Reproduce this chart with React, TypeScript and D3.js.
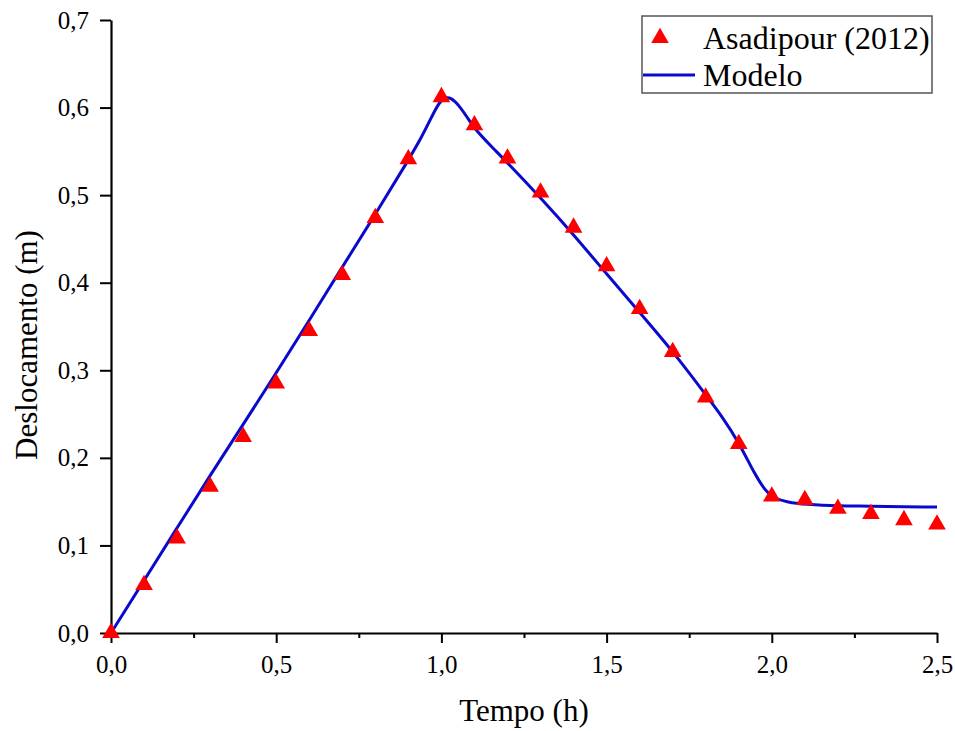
import React, { useEffect, useRef } from 'react'
import * as d3 from 'd3'

// Asadipour (2012) measured points
const expTime = [0, 0.1, 0.2, 0.3, 0.4, 0.5, 0.6, 0.7, 0.8, 0.9, 1.0, 1.1, 1.2, 1.3, 1.4, 1.5, 1.6, 1.7, 1.8, 1.9, 2.0, 2.1, 2.2, 2.3, 2.4, 2.5]
const expDesl = [0, 0.055, 0.108, 0.167, 0.224, 0.285, 0.345, 0.409, 0.474, 0.541, 0.612, 0.58, 0.542, 0.503, 0.463, 0.419, 0.37, 0.321, 0.269, 0.216, 0.156, 0.152, 0.142, 0.136, 0.129, 0.124]

// Modelo curve
const modTime = [0, 0.1, 0.2, 0.3, 0.4, 0.5, 0.6, 0.7, 0.8, 0.9, 0.94, 0.97, 0.99, 1.01, 1.03, 1.05, 1.08, 1.1, 1.15, 1.2, 1.3, 1.4, 1.5, 1.6, 1.7, 1.8, 1.85, 1.9, 1.95, 1.98, 2.0, 2.05, 2.1, 2.2, 2.3, 2.4, 2.5]
const modDesl = [0, 0.06, 0.12, 0.18, 0.238, 0.297, 0.357, 0.418, 0.478, 0.54, 0.566, 0.589, 0.604, 0.612, 0.611, 0.604, 0.588, 0.576, 0.556, 0.537, 0.497, 0.455, 0.41, 0.366, 0.322, 0.272, 0.247, 0.218, 0.18, 0.163, 0.155, 0.149, 0.147, 0.145, 0.145, 0.144, 0.144]

const xTicks = [0, 0.5, 1.0, 1.5, 2.0, 2.5]
const xMinor = [0.25, 0.75, 1.25, 1.75, 2.25]
const yTicks = [0, 0.1, 0.2, 0.3, 0.4, 0.5, 0.6, 0.7]

const legendLabels = ['Asadipour (2012)', 'Modelo']

const FONT = "'Liberation Serif', 'DejaVu Serif'"

export default function App() {
  const ref = useRef<SVGSVGElement>(null)

  useEffect(() => {
    const svg = d3.select(ref.current)
    svg.selectAll('*').remove()

    const x = d3.scaleLinear().domain([0, 2.5]).range([111, 937])
    const y = d3.scaleLinear().domain([0, 0.7]).range([633, 20])
    const fmt = (d: any) => d3.format('.1f')(d).replace('.', ',')

    // minor x ticks
    svg.append('g')
      .attr('transform', 'translate(0,633)')
      .call(d3.axisBottom(x).tickValues(xMinor).tickSize(5).tickSizeOuter(0).tickFormat(() => ''))
      .call(g => g.select('.domain').remove())
      .call(g => g.selectAll('line').attr('stroke', '#000').attr('stroke-width', 2))

    // x axis
    const gx = svg.append('g')
      .attr('transform', 'translate(0,633)')
      .call(d3.axisBottom(x).tickValues(xTicks).tickSize(10).tickSizeOuter(0).tickPadding(12).tickFormat(fmt))
    gx.attr('font-family', null)
    gx.select('.domain').attr('stroke', '#000').attr('stroke-width', 2.2)
    gx.selectAll('line').attr('stroke', '#000').attr('stroke-width', 2)
    gx.selectAll('text').style('font-family', FONT).style('font-size', '25px').attr('fill', '#000')

    // y axis
    const gy = svg.append('g')
      .attr('transform', 'translate(111,0)')
      .call(d3.axisLeft(y).tickValues(yTicks).tickSize(11).tickSizeOuter(0).tickPadding(11).tickFormat(fmt))
    gy.attr('font-family', null)
    gy.select('.domain').attr('stroke', '#000').attr('stroke-width', 2.2)
    gy.selectAll('line').attr('stroke', '#000').attr('stroke-width', 2)
    gy.selectAll('text').style('font-family', FONT).style('font-size', '25px').attr('fill', '#000')

    // axis titles
    svg.append('text')
      .attr('x', 524).attr('y', 721)
      .attr('text-anchor', 'middle')
      .style('font-family', FONT).style('font-size', '31px')
      .text('Tempo (h)')
    svg.append('text')
      .attr('transform', 'translate(37,345) rotate(-90)')
      .attr('text-anchor', 'middle')
      .style('font-family', FONT).style('font-size', '31px')
      .text('Deslocamento (m)')

    // model line
    const modData = modTime.map((t, i) => [t, modDesl[i]] as [number, number])
    const line = d3.line<[number, number]>()
      .x(d => x(d[0]))
      .y(d => y(d[1]))
      .curve(d3.curveBasis)
    svg.append('path')
      .datum(modData)
      .attr('fill', 'none')
      .attr('stroke', '#0a0acc')
      .attr('stroke-width', 3)
      .attr('d', line)

    // experimental triangles
    const tri = d3.symbol().type(d3.symbolTriangle).size(135)
    svg.append('g').selectAll('path')
      .data(expTime.map((t, i) => [t, expDesl[i]]))
      .enter().append('path')
      .attr('d', tri)
      .attr('transform', d => 'translate(' + x(d[0]) + ',' + y(d[1]) + ')')
      .attr('fill', '#ff0000')

    // legend
    const lg = svg.append('g')
    lg.append('rect')
      .attr('x', 642).attr('y', 16)
      .attr('width', 290).attr('height', 77)
      .attr('fill', 'white')
      .attr('stroke', '#555').attr('stroke-width', 1.5)
    lg.append('path')
      .attr('d', tri)
      .attr('transform', 'translate(660,38)')
      .attr('fill', '#ff0000')
    lg.append('line')
      .attr('x1', 643).attr('x2', 695)
      .attr('y1', 75).attr('y2', 75)
      .attr('stroke', '#0a0acc').attr('stroke-width', 3)
    lg.selectAll('text.lbl')
      .data(legendLabels)
      .enter().append('text')
      .attr('class', 'lbl')
      .attr('x', 703)
      .attr('y', (d, i) => 49 + i * 37)
      .style('font-family', FONT).style('font-size', '32px')
      .text(d => d)
  }, [])

  return (
    <svg ref={ref} width={955} height={731}
      style={{ position: 'absolute', left: 0, top: 0, background: '#fff' }} />
  )
}
